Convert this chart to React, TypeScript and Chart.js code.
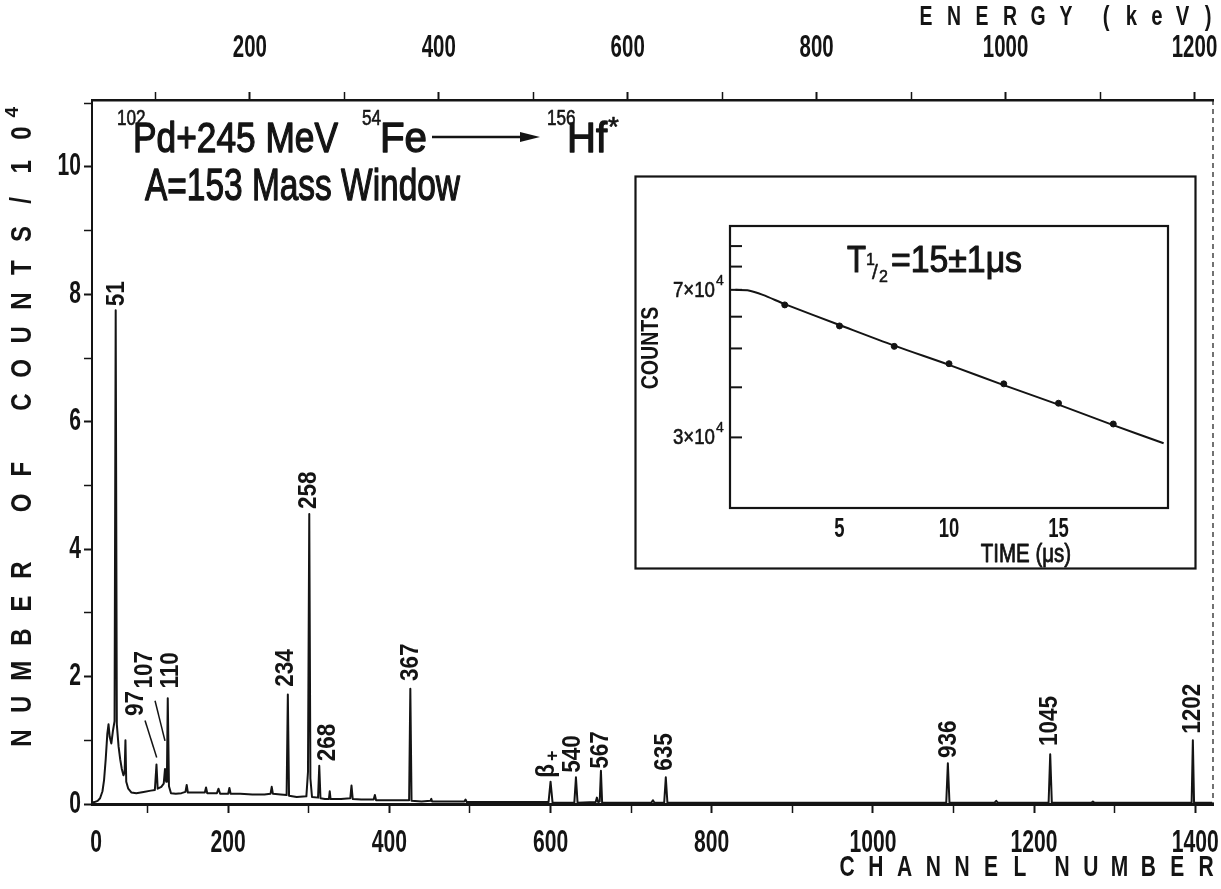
import React, { useEffect, useRef } from 'react';
import { Chart, registerables } from 'chart.js';

Chart.register(...registerables);

const FONT = '"Liberation Sans", Arial, sans-serif';
const INK = '#141414';

// ---------- main spectrum (counts in units of 10^4) ----------
const SPECTRUM_CHANNEL = [
  30, 34, 38, 41, 44, 46, 48, 50, 51.5, 53, 55, 57, 59, 60.4, 61.8, 64, 66, 68, 70, 71.5, 72.5, 73.5,
  76, 80, 86, 95, 104, 109, 111, 112.5, 117, 120, 121.6, 123, 124, 125, 126.5, 129, 135, 142, 147,
  148.5, 150, 160, 171, 172.5, 174, 186, 188, 190, 200, 201.5, 203, 215, 230, 245, 252.5, 254, 255.5,
  265, 272.5, 274, 275.5, 285, 297, 299, 300.6, 302, 304, 311.5, 313, 314.5, 320, 325, 326, 327, 340,
  351.5, 353, 354.5, 365, 380.5, 382, 383.5, 400, 415, 424.5, 426, 427.5, 440, 451, 452, 453, 470,
  493, 494.5, 496, 520, 560, 597.5, 600, 602.5, 629.5, 631.5, 633.5, 656, 657.5, 659, 661, 662.5, 664,
  700, 725, 727, 729, 741, 743, 745, 800, 860, 920, 980, 1040, 1091, 1093, 1095, 1151, 1153, 1155,
  1218, 1220, 1222, 1271, 1273, 1275, 1340, 1395.5, 1397, 1398.5, 1421,
];
const SPECTRUM_COUNTS = [
  0.02, 0.03, 0.05, 0.09, 0.2, 0.38, 0.7, 1.1, 1.25, 1.05, 0.95, 1.15, 1.3, 7.75, 1.25, 0.9, 0.7, 0.55, 0.45, 0.5, 1.0, 0.35,
  0.24, 0.18, 0.17, 0.19, 0.21, 0.22, 0.62, 0.24, 0.27, 0.32, 0.55, 0.35, 0.45, 1.66, 0.28, 0.17, 0.16, 0.17, 0.19,
  0.3, 0.18, 0.18, 0.18, 0.26, 0.17, 0.17, 0.24, 0.16, 0.16, 0.25, 0.16, 0.16, 0.15, 0.15, 0.16, 0.27, 0.16,
  0.15, 0.14, 1.72, 0.13, 0.11, 0.12, 0.5, 4.55, 0.4, 0.11, 0.1, 0.6, 0.09, 0.08, 0.08, 0.2, 0.08, 0.08,
  0.09, 0.29, 0.08, 0.07, 0.07, 0.14, 0.06, 0.06, 0.06, 0.06, 1.81, 0.05, 0.04, 0.05, 0.08, 0.04, 0.04,
  0.04, 0.07, 0.03, 0.03, 0.03, 0.03, 0.35, 0.02, 0.02, 0.42, 0.02, 0.03, 0.1, 0.03, 0.04, 0.52, 0.02,
  0.02, 0.02, 0.06, 0.02, 0.02, 0.42, 0.02, 0.02, 0.02, 0.02, 0.02, 0.02, 0.02, 0.64, 0.02, 0.02, 0.05, 0.02,
  0.02, 0.78, 0.02, 0.02, 0.04, 0.02, 0.02, 0.02, 1.0, 0.02, 0.02,
];

// axes
const CHANNEL_MIN = 31;
const CHANNEL_MAX = 1422;
const CHANNEL_TICKS = [100, 200, 300, 400, 500, 600, 700, 800, 900, 1000, 1100, 1200, 1300, 1400];
const CHANNEL_LABELED = [200, 400, 600, 800, 1000, 1200, 1400];
const ENERGY_MIN = 32.9;
const ENERGY_MAX = 1219.6;
const ENERGY_TICKS = [100, 200, 300, 400, 500, 600, 700, 800, 900, 1000, 1100, 1200];
const ENERGY_LABELED = [200, 400, 600, 800, 1000, 1200];
const COUNT_MAX = 11.05;
const COUNT_TICKS = [0, 1, 2, 3, 4, 5, 6, 7, 8, 9, 10, 11];
const COUNT_LABELED = [0, 2, 4, 6, 8, 10];

// peak labels (gamma energies in keV), anchor channel and counts at the label foot
const PEAK_LABEL_TEXT = ['51', '97', '107', '110', '234', '258', '268', '367', 'β+', '540', '567', '635', '936', '1045', '1202'];
const PEAK_LABEL_CHANNEL = [62, 85.6, 96.8, 128.7, 271.7, 300.2, 323.8, 426.8, 595.5, 627.8, 662.5, 742, 1094, 1219.6, 1397];
const PEAK_LABEL_FOOT = [7.78, 1.35, 1.78, 1.78, 1.81, 4.6, 0.64, 1.9, 0.38, 0.46, 0.52, 0.49, 0.69, 0.88, 1.07];
const LEADER_97 = [[96.8, 1.31], [111.3, 0.73]];
const LEADER_107 = [[109.2, 1.62], [121.6, 0.99]];

// ---------- inset: decay curve (counts in units of 10^4) ----------
const DECAY_TIME = [2.5, 5, 7.5, 10, 12.5, 15, 17.5];
const DECAY_COUNTS = [6.42, 5.69, 5.06, 4.58, 4.08, 3.65, 3.24];
const FIT_TIME = [0.25, 0.8, 1.5, 2.5, 5, 7.5, 10, 12.5, 15, 17.5, 19.8];
const FIT_COUNTS = [7.0, 6.98, 6.8, 6.45, 5.72, 5.08, 4.55, 4.05, 3.62, 3.22, 2.9];
const INSET_X_TICKS = [5, 10, 15];
const INSET_Y_TICKS = [3, 4, 5, 6, 7, 8, 9];
const INSET_Y_LABELED = [3, 7];

type TxtOpts = {
  align?: CanvasTextAlign;
  baseline?: CanvasTextBaseline;
  squeeze?: number;
  fit?: number;
  rotate?: number;
  weight?: string;
  stroke?: number;
};

function txt(ctx: CanvasRenderingContext2D, s: string, x: number, y: number, size: number, o: TxtOpts = {}) {
  const { align = 'left', baseline = 'middle', squeeze = 1, fit, rotate = 0, weight = 'bold', stroke = 0 } = o;
  ctx.save();
  ctx.font = `${weight} ${size}px ${FONT}`;
  ctx.textAlign = align;
  ctx.textBaseline = baseline;
  ctx.fillStyle = INK;
  ctx.strokeStyle = INK;
  ctx.lineJoin = 'round';
  ctx.translate(x, y);
  if (rotate) ctx.rotate(rotate);
  const w = ctx.measureText(s).width;
  const target = fit !== undefined ? fit : w * squeeze;
  if (target < w) {
    ctx.fillText(s, 0, 0, target);
    if (stroke) {
      ctx.lineWidth = stroke;
      ctx.strokeText(s, 0, 0, target);
    }
  } else {
    ctx.fillText(s, 0, 0);
    if (stroke) {
      ctx.lineWidth = stroke;
      ctx.strokeText(s, 0, 0);
    }
  }
  ctx.restore();
  return Math.min(target, w);
}

const mainDecor = {
  id: 'mainDecor',
  afterDraw(chart: any) {
    const ctx: CanvasRenderingContext2D = chart.ctx;
    const xs = chart.scales.x;
    const xe = chart.scales.xE;
    const ys = chart.scales.y;
    const a = chart.chartArea;
    ctx.save();
    ctx.strokeStyle = INK;
    ctx.fillStyle = INK;

    // right frame (dashed, faint in the scan)
    ctx.setLineDash([5, 4]);
    ctx.lineWidth = 1.2;
    ctx.beginPath();
    ctx.moveTo(a.right, a.top);
    ctx.lineTo(a.right, a.bottom);
    ctx.stroke();
    ctx.setLineDash([]);

    // y tick labels
    COUNT_LABELED.forEach((v) => {
      txt(ctx, String(v), a.left - 11, ys.getPixelForValue(v), 31, { align: 'right', squeeze: 0.68 });
    });
    // bottom tick labels
    CHANNEL_LABELED.forEach((v) => {
      txt(ctx, String(v), xs.getPixelForValue(v), 843, 32, { align: 'center', squeeze: 0.66 });
    });
    txt(ctx, '0', a.left + 4, 843, 32, { align: 'center', squeeze: 0.66 });
    // top tick labels
    ENERGY_LABELED.forEach((v) => {
      txt(ctx, String(v), xe.getPixelForValue(v), 48, 32, { align: 'center', squeeze: 0.64 });
    });

    // axis titles
    const yTitle = 'NUMBER OF COUNTS/10';
    for (let i = 0; i < yTitle.length; i++) {
      const ch = yTitle[i];
      if (ch === ' ') continue;
      txt(ctx, ch, 23, 738 - i * 33.6, 30, { align: 'center', rotate: -Math.PI / 2, squeeze: 0.8 });
    }
    txt(ctx, '4', 13, 738 - 18 * 33.6 - 21, 19, { align: 'center', rotate: -Math.PI / 2 });

    const w1 = 'CHANNEL';
    const w2 = 'NUMBER';
    const pitch = 28.8;
    for (let i = 0; i < w1.length; i++) txt(ctx, w1[i], 847 + i * pitch, 868, 30, { align: 'center', squeeze: 0.7 });
    for (let i = 0; i < w2.length; i++) txt(ctx, w2[i], 1206 - (w2.length - 1 - i) * pitch, 868, 30, { align: 'center', squeeze: 0.7 });

    const e1 = 'ENERGY';
    for (let i = 0; i < e1.length; i++) txt(ctx, e1[i], 926 + i * 28, 18, 27, { align: 'center', squeeze: 0.72 });
    const e2 = '(keV)';
    for (let i = 0; i < e2.length; i++) txt(ctx, e2[i], 1106 + i * 25.5, 18, 27, { align: 'center', squeeze: 0.75 });

    // reaction title
    txt(ctx, '102', 117, 119, 22, { squeeze: 0.78, weight: 'normal', stroke: 0.6 });
    txt(ctx, 'Pd+245 MeV', 133, 152, 42, { baseline: 'alphabetic', fit: 205, weight: 'normal', stroke: 1.3 });
    txt(ctx, '54', 362, 119, 22, { squeeze: 0.78, weight: 'normal', stroke: 0.6 });
    txt(ctx, 'Fe', 380, 152, 42, { baseline: 'alphabetic', fit: 47, weight: 'normal', stroke: 1.3 });
    ctx.lineWidth = 2.5;
    ctx.beginPath();
    ctx.moveTo(432, 137);
    ctx.lineTo(524, 137);
    ctx.stroke();
    ctx.beginPath();
    ctx.moveTo(520, 132);
    ctx.lineTo(540, 137);
    ctx.lineTo(520, 142);
    ctx.closePath();
    ctx.fill();
    txt(ctx, '156', 547, 119, 22, { squeeze: 0.78, weight: 'normal', stroke: 0.6 });
    txt(ctx, 'Hf', 567, 152, 42, { baseline: 'alphabetic', fit: 40, weight: 'normal', stroke: 1.3 });
    txt(ctx, '*', 608, 128, 28, { weight: 'normal', stroke: 0.6 });
    txt(ctx, 'A=153 Mass Window', 145, 200, 45, { baseline: 'alphabetic', fit: 315, weight: 'normal', stroke: 1.3 });

    // peak labels
    PEAK_LABEL_TEXT.forEach((s, i) => {
      const px = xs.getPixelForValue(PEAK_LABEL_CHANNEL[i]);
      const py = ys.getPixelForValue(PEAK_LABEL_FOOT[i]) - 2;
      if (s === 'β+') {
        const w = txt(ctx, 'β', px, py, 25, { rotate: -Math.PI / 2, squeeze: 0.9 });
        txt(ctx, '+', px + 6, py - w - 3, 18, { rotate: -Math.PI / 2 });
      } else {
        txt(ctx, s, px, py, 25, { rotate: -Math.PI / 2, squeeze: 0.9 });
      }
    });
    ctx.lineWidth = 1.5;
    [LEADER_97, LEADER_107].forEach((seg) => {
      ctx.beginPath();
      ctx.moveTo(xs.getPixelForValue(seg[0][0]), ys.getPixelForValue(seg[0][1]));
      ctx.lineTo(xs.getPixelForValue(seg[1][0]), ys.getPixelForValue(seg[1][1]));
      ctx.stroke();
    });
    ctx.restore();
  },
};

const insetDecor = {
  id: 'insetDecor',
  beforeDraw(chart: any) {
    const ctx: CanvasRenderingContext2D = chart.ctx;
    ctx.save();
    ctx.fillStyle = '#ffffff';
    ctx.fillRect(0, 0, chart.width, chart.height);
    ctx.restore();
  },
  afterDraw(chart: any) {
    const ctx: CanvasRenderingContext2D = chart.ctx;
    const xs = chart.scales.x;
    const ys = chart.scales.y;
    const a = chart.chartArea;
    ctx.save();
    ctx.strokeStyle = INK;
    ctx.lineWidth = 2.2;
    ctx.strokeRect(1.5, 1.5, chart.width - 3, chart.height - 3);
    ctx.strokeRect(a.left, a.top, a.right - a.left, a.bottom - a.top);
    ctx.lineWidth = 2;
    INSET_Y_TICKS.forEach((v) => {
      const py = ys.getPixelForValue(v);
      ctx.beginPath();
      ctx.moveTo(a.left, py);
      ctx.lineTo(a.left + 12, py);
      ctx.stroke();
    });
    INSET_Y_LABELED.forEach((v) => {
      const py = ys.getPixelForValue(v);
      txt(ctx, `${v}×10`, a.left - 15, py + 1, 22, { align: 'right', squeeze: 0.85, weight: 'normal', stroke: 0.6 });
      txt(ctx, '4', a.left - 14, py - 9, 14, { align: 'left', weight: 'normal', stroke: 0.4 });
    });
    INSET_X_TICKS.forEach((v) => {
      txt(ctx, String(v), xs.getPixelForValue(v), a.bottom + 21, 28, { align: 'center', squeeze: 0.66 });
    });
    txt(ctx, 'COUNTS', 18, 173, 23, { align: 'center', rotate: -Math.PI / 2, squeeze: 0.85 });
    txt(ctx, 'TIME (μs)', 392, 380, 25, { align: 'center', squeeze: 0.82, weight: 'normal', stroke: 0.8 });
    // half-life
    txt(ctx, 'T', 213, 97, 36, { baseline: 'alphabetic', fit: 19, weight: 'normal', stroke: 1.1 });
    txt(ctx, '1', 232, 90, 16, { baseline: 'alphabetic', weight: 'normal', stroke: 0.5 });
    txt(ctx, '/', 238, 104, 21, { baseline: 'alphabetic', weight: 'normal', stroke: 0.5 });
    txt(ctx, '2', 245, 107, 16, { baseline: 'alphabetic', weight: 'normal', stroke: 0.5 });
    txt(ctx, '=15±1μs', 257, 97, 36, { baseline: 'alphabetic', fit: 131, weight: 'normal', stroke: 1.1 });
    ctx.restore();
  },
};

export default function App() {
  const mainRef = useRef<HTMLCanvasElement | null>(null);
  const insetRef = useRef<HTMLCanvasElement | null>(null);

  useEffect(() => {
    if (!mainRef.current || !insetRef.current) return;
    const tickW = (ctx: any, major: number) => (ctx.tick && ctx.tick.value % major === 0 ? 2 : 1.5);

    const main = new Chart(mainRef.current, {
      type: 'line',
      data: {
        datasets: [
          {
            data: SPECTRUM_CHANNEL.map((c, i) => ({ x: c, y: SPECTRUM_COUNTS[i] })),
            borderColor: INK,
            borderWidth: 2,
            pointRadius: 0,
            tension: 0,
            borderJoinStyle: 'round',
            xAxisID: 'x',
            yAxisID: 'y',
          },
        ],
      },
      plugins: [mainDecor],
      options: {
        responsive: false,
        animation: false,
        events: [],
        layout: { padding: { left: 0, right: 8, top: 0, bottom: 0 } },
        plugins: { legend: { display: false }, tooltip: { enabled: false } },
        scales: {
          x: {
            type: 'linear',
            position: 'bottom',
            min: CHANNEL_MIN,
            max: CHANNEL_MAX,
            afterBuildTicks: (s: any) => {
              s.ticks = CHANNEL_TICKS.map((v) => ({ value: v }));
            },
            afterFit: (s: any) => {
              s.height = 85;
            },
            ticks: { display: false },
            grid: { drawOnChartArea: false, drawTicks: true, tickLength: 9, tickColor: INK, tickWidth: (c: any) => tickW(c, 200) },
            border: { display: true, color: INK, width: 3 },
          },
          xE: {
            type: 'linear',
            position: 'top',
            min: ENERGY_MIN,
            max: ENERGY_MAX,
            afterBuildTicks: (s: any) => {
              s.ticks = ENERGY_TICKS.map((v) => ({ value: v }));
            },
            afterFit: (s: any) => {
              s.height = 100;
            },
            ticks: { display: false },
            grid: { drawOnChartArea: false, drawTicks: true, tickLength: 8, tickColor: INK, tickWidth: (c: any) => tickW(c, 200) },
            border: { display: true, color: INK, width: 2.5 },
          },
          y: {
            type: 'linear',
            position: 'left',
            min: 0,
            max: COUNT_MAX,
            afterBuildTicks: (s: any) => {
              s.ticks = COUNT_TICKS.map((v) => ({ value: v }));
            },
            afterFit: (s: any) => {
              s.width = 92;
            },
            ticks: { display: false },
            grid: { drawOnChartArea: false, drawTicks: true, tickLength: 8, tickColor: INK, tickWidth: (c: any) => tickW(c, 2) },
            border: { display: true, color: INK, width: 2 },
          },
        },
      },
    } as any);

    const inset = new Chart(insetRef.current, {
      type: 'line',
      data: {
        datasets: [
          {
            data: FIT_TIME.map((t, i) => ({ x: t, y: FIT_COUNTS[i] })),
            borderColor: INK,
            borderWidth: 2,
            pointRadius: 0,
            tension: 0.3,
          },
          {
            data: DECAY_TIME.map((t, i) => ({ x: t, y: DECAY_COUNTS[i] })),
            showLine: false,
            pointRadius: 3,
            pointBackgroundColor: INK,
            pointBorderColor: INK,
            borderColor: INK,
          },
        ],
      },
      plugins: [insetDecor],
      options: {
        responsive: false,
        animation: false,
        events: [],
        layout: { padding: { left: 96, right: 29, top: 51, bottom: 62 } },
        plugins: { legend: { display: false }, tooltip: { enabled: false } },
        scales: {
          x: { type: 'linear', min: 0, max: 20, display: false },
          y: { type: 'logarithmic', min: 2, max: 10.1, display: false },
        },
      },
    } as any);

    return () => {
      main.destroy();
      inset.destroy();
    };
  }, []);

  return (
    <div style={{ position: 'absolute', left: 0, top: 0, width: 1221, height: 889, background: '#fff' }}>
      <canvas ref={mainRef} width={1221} height={889} style={{ position: 'absolute', left: 0, top: 0 }} />
      <canvas ref={insetRef} width={563} height={395} style={{ position: 'absolute', left: 634, top: 175 }} />
    </div>
  );
}
